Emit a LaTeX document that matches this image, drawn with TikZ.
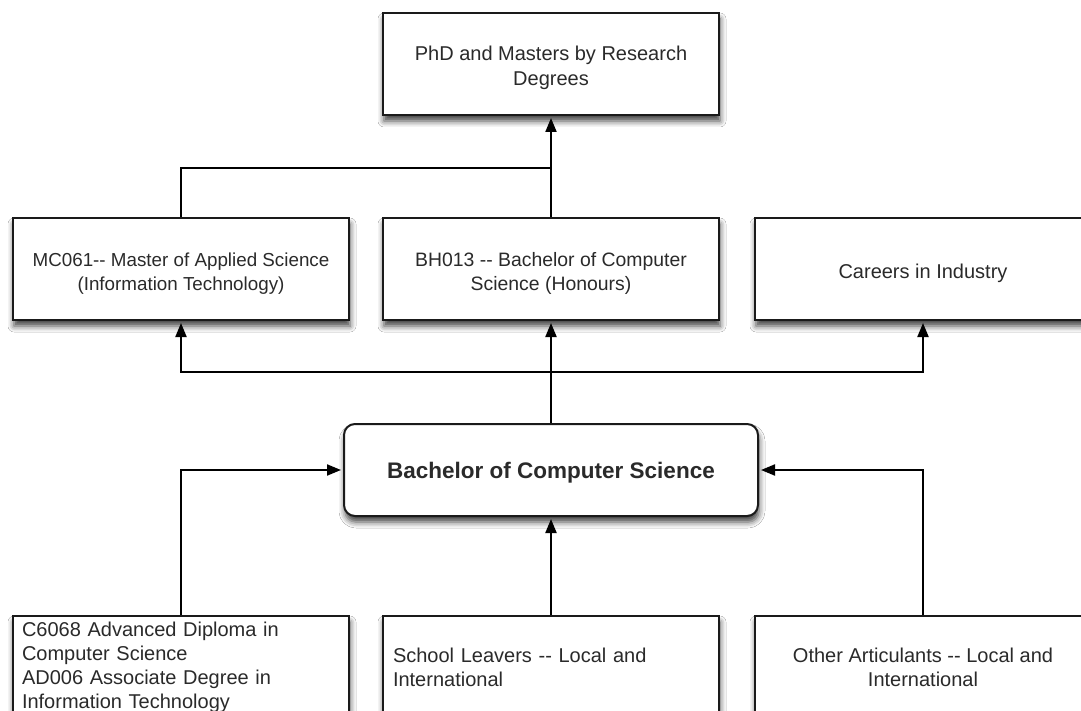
\documentclass[tikz,border=0pt]{standalone}
\usepackage{fontspec}
\setmainfont{Liberation Sans}
\usetikzlibrary{arrows.meta,shadows,shadows.blur}
\definecolor{edge}{HTML}{1A1A1A}
\definecolor{txt}{HTML}{2A2A2A}
\newcommand{\tstrut}[1]{\rule{0pt}{#1}}
\tikzset{
  box/.style={draw=edge, line width=2pt, fill=white, minimum width=336pt, minimum height=102pt,
    inner sep=9pt, text=txt, blur shadow={shadow xshift=1pt, shadow yshift=-6pt, shadow blur radius=6pt, shadow opacity=75}},
  rbox/.style={box, rounded corners=11pt, minimum width=414pt, minimum height=92pt},
  conn/.style={draw=black, line width=2pt},
  arr/.style={conn, -{Triangle[length=14pt,width=11pt]}, shorten >=2pt},
  fs/.style={font=\fontsize{20}{25}\selectfont},
  fsb/.style={font=\fontsize{20}{24}\selectfont},
}
\begin{document}
\begin{tikzpicture}[x=1pt,y=-1pt]
\useasboundingbox (0,0) rectangle (1081,711);
\fill[white] (0,0) rectangle (1081,711);
\clip (0,0) rectangle (1081,711);
\node[box, fs, align=center] (top) at (551,64) {\tstrut{23pt}PhD and Masters by Research\\Degrees};
\node[box, font=\fontsize{18.8}{24}\selectfont, align=center] (mc) at (181,269) {\tstrut{22.5pt}MC061-{}- Master of Applied Science\\(Information Technology)};
\node[box, font=\fontsize{19.4}{24}\selectfont, align=center] (bh) at (551,269) {\tstrut{23pt}BH013 -{}- Bachelor of Computer\\Science (Honours)};
\node[box, fs, align=center] (car) at (923,269) {\tstrut{24pt}Careers in Industry};
\node[rbox, font=\fontsize{22.5}{27}\bfseries\selectfont] (bcs) at (551,470) {\tstrut{22.5pt}Bachelor of Computer Science};
\node[box, fsb, align=left, text width=318pt, inner ysep=0pt] (c6) at (181,667) {C6068 Advanced Diploma in\\Computer Science\\AD006 Associate Degree in\\Information Technology};
\node[box, fsb, align=left, text width=316pt] (sl) at (551,667) {School Leavers -{}- Local and\\International};
\node[box, fsb, align=center] (oa) at (923,667) {Other Articulants -{}- Local and\\International};
\coordinate (j1) at (551,168);
\coordinate (j2) at (551,372);
\draw[arr] (bh.north) -- (top.south);
\draw[conn] (mc.north) |- (j1);
\draw[arr] (bcs.north) -- (bh.south);
\draw[arr] (j2) -| (mc.south);
\draw[arr] (j2) -| (car.south);
\draw[arr] (c6.north) |- (bcs.west);
\draw[arr] (sl.north) -- (bcs.south);
\draw[arr] (oa.north) |- (bcs.east);
\end{tikzpicture}
\end{document}
